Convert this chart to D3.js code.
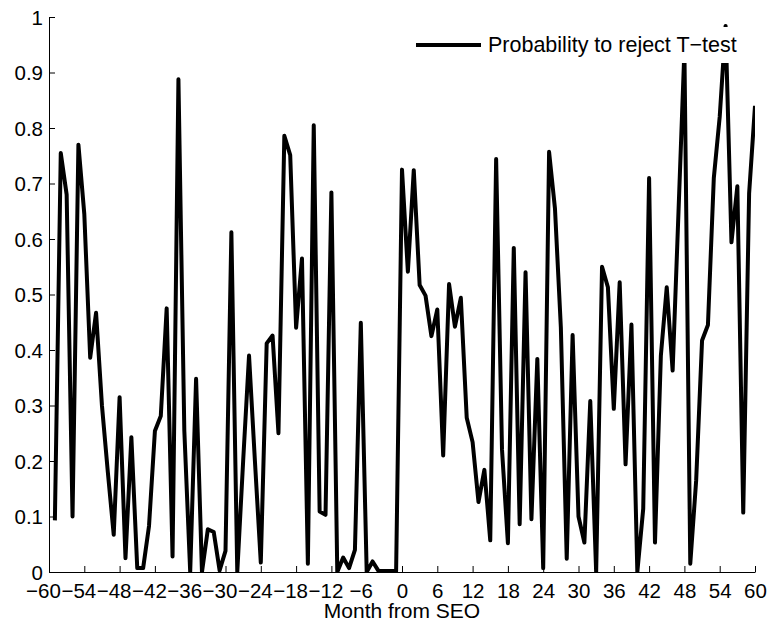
<!DOCTYPE html>
<html>
<head>
<meta charset="utf-8">
<script src="https://cdn.jsdelivr.net/npm/d3@7"></script>
<style>
  html, body { margin: 0; padding: 0; background: #fff; }
  text { font-family: "Liberation Sans", Arial, Helvetica, sans-serif; }
</style>
</head>
<body>
<svg id="chart" width="769" height="630"></svg>
<script>
// ---- data ----
const months = d3.range(-59, 61);
const probReject = [
  0.093, 0.755, 0.68, 0.10, 0.77, 0.645, 0.386, 0.467, 0.30, 0.18,
  0.067, 0.315, 0.025, 0.243, 0.007, 0.007, 0.083, 0.254, 0.281, 0.475,
  0.028, 0.888, 0.255, 0.0, 0.348, 0.0, 0.077, 0.072, 0.003, 0.038,
  0.612, 0.0, 0.2, 0.39, 0.2, 0.017, 0.412, 0.426, 0.25, 0.786,
  0.751, 0.44, 0.565, 0.015, 0.805, 0.109, 0.103, 0.684, 0.0, 0.026,
  0.007, 0.04, 0.449, 0.0, 0.019, 0.002, 0.002, 0.002, 0.002, 0.725,
  0.541, 0.724, 0.517, 0.498, 0.425, 0.473, 0.21, 0.519, 0.442, 0.494,
  0.278, 0.234, 0.126, 0.184, 0.057, 0.744, 0.22, 0.052, 0.584, 0.086,
  0.54, 0.095, 0.384, 0.007, 0.757, 0.655, 0.441, 0.024, 0.427, 0.10,
  0.053, 0.308, 0.0, 0.55, 0.513, 0.294, 0.522, 0.194, 0.446, 0.0,
  0.114, 0.71, 0.053, 0.39, 0.513, 0.363, 0.65, 0.94, 0.015, 0.165,
  0.417, 0.445, 0.71, 0.82, 0.984, 0.594, 0.695, 0.107, 0.682, 0.84
];
const xTicks = d3.range(-60, 61, 6);
const yTicks = d3.range(0, 11).map(d => d / 10);
const seriesName = "Probability to reject T\u2212test";
const xLabel = "Month from SEO";

// ---- layout ----
const svg = d3.select("#chart");
const pL = 49, pR = 755, pT = 17, pB = 572;
const x = d3.scaleLinear().domain([-60, 60]).range([pL, pR]);
const y = d3.scaleLinear().domain([0, 1]).range([pB, pT]);
const FS = 20.5;

svg.append("rect").attr("width", 769).attr("height", 630).attr("fill", "#fff");

svg.append("defs").append("clipPath").attr("id", "plotclip")
  .append("rect").attr("x", pL).attr("y", pT)
  .attr("width", pR - pL).attr("height", pB - pT);

const fmtX = d => (d < 0 ? "\u2212" + Math.abs(d) : String(d));
const fmtY = d => (d === 0 ? "0" : d === 1 ? "1" : d3.format(".1f")(d));

// x axis
const xAxis = svg.append("g")
  .attr("transform", `translate(0,${pB})`)
  .call(d3.axisBottom(x).tickValues(xTicks).tickFormat(fmtX)
        .tickSizeInner(-6).tickSizeOuter(0).tickPadding(0));
xAxis.select(".domain").attr("stroke", "#000").attr("stroke-width", 1);
xAxis.selectAll(".tick line").attr("stroke", "#000");
xAxis.selectAll(".tick text")
  .attr("font-size", FS).attr("fill", "#000")
  .attr("y", 26).attr("dy", 0)
  .attr("dx", d => (d < 0 ? -6 : 0));

// y axis
const yAxis = svg.append("g")
  .attr("transform", `translate(${pL},0)`)
  .call(d3.axisLeft(y).tickValues(yTicks).tickFormat(fmtY)
        .tickSizeInner(-6).tickSizeOuter(0).tickPadding(0));
yAxis.select(".domain").attr("stroke", "#000").attr("stroke-width", 1);
yAxis.selectAll(".tick line").attr("stroke", "#000");
yAxis.selectAll(".tick text")
  .attr("font-size", FS).attr("fill", "#000")
  .attr("x", -6).attr("dy", "0.35em");

// x label
svg.append("text")
  .attr("x", (pL + pR) / 2).attr("y", 618)
  .attr("text-anchor", "middle").attr("font-size", 21).attr("fill", "#000")
  .text(xLabel);

// line
const pts = months.map((m, i) => [m, probReject[i]]);
svg.append("path")
  .datum(pts)
  .attr("clip-path", "url(#plotclip)")
  .attr("fill", "none")
  .attr("stroke", "#000")
  .attr("stroke-width", 4)
  .attr("stroke-linejoin", "round")
  .attr("d", d3.line().x(d => x(d[0])).y(d => y(d[1])));

// legend
const lg = svg.append("g");
lg.append("rect").attr("x", 408).attr("y", 27).attr("width", 342).attr("height", 36)
  .attr("fill", "#fff");
lg.append("line").attr("x1", 416).attr("x2", 481).attr("y1", 45).attr("y2", 45)
  .attr("stroke", "#000").attr("stroke-width", 4);
lg.append("text").attr("x", 488).attr("y", 52)
  .attr("font-size", 21.5).attr("fill", "#000").text(seriesName);
</script>
</body>
</html>
